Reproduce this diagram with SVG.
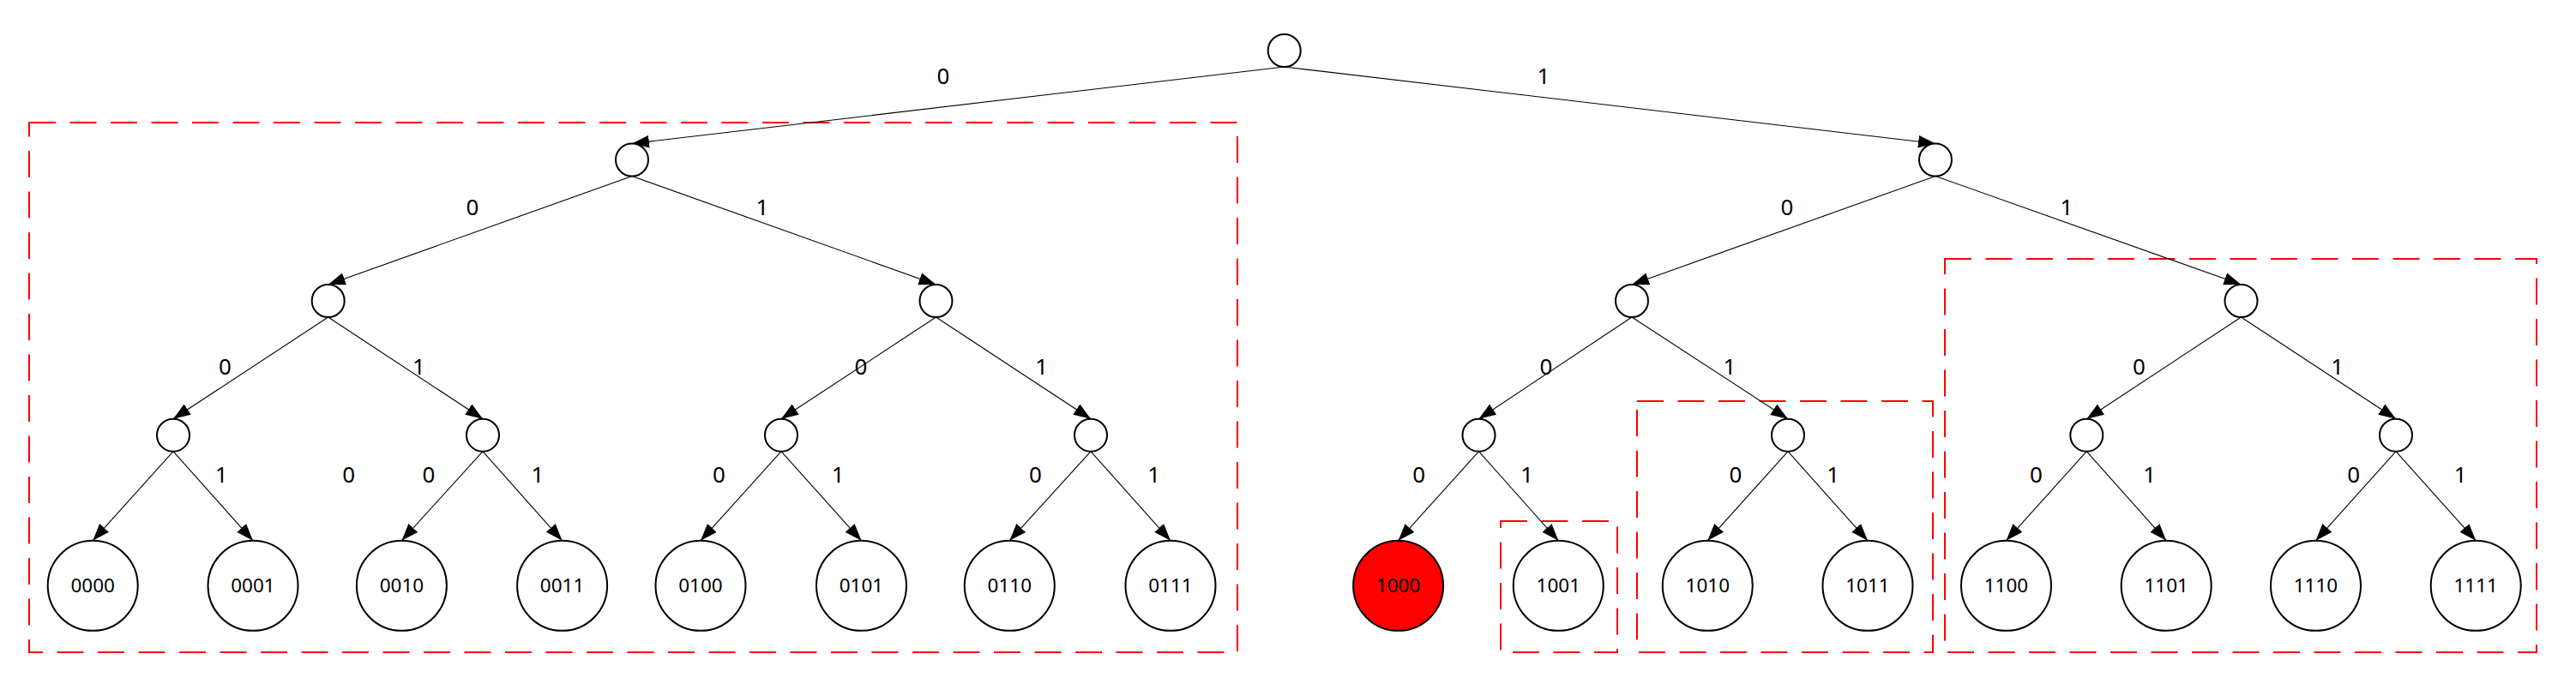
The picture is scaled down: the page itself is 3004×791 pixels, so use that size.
<svg xmlns="http://www.w3.org/2000/svg" width="3004" height="791" viewBox="0 0 3004 791">
<style>
.n{fill:#fff;stroke:#000;stroke-width:2}
.hl{fill:#ff0000;stroke:#000;stroke-width:2}
.e{stroke:#000;stroke-width:1.1;fill:none;marker-end:url(#arr)}
.el{font-family:"Noto Sans","DejaVu Sans",sans-serif;font-size:26px;text-anchor:middle;fill:#000}
.lt{font-family:"Noto Sans","DejaVu Sans",sans-serif;font-size:22.5px;text-anchor:middle;fill:#000}
.box{fill:none;stroke:#ff0000;stroke-width:2;stroke-dasharray:31 16.5}
</style>
<defs>
<marker id="arr" markerUnits="userSpaceOnUse" markerWidth="20" markerHeight="15" refX="20" refY="7.3" orient="auto" viewBox="0 0 20 14.6">
<path d="M0,0 L20,7.3 L0,14.6 z" fill="#000"/>
</marker>
</defs>
<rect width="3004" height="791" fill="#fff"/>
<g id="clusters">
<rect class="box" x="34" y="143" width="1409" height="618"/>
<rect class="box" x="1750" y="608" width="136" height="153"/>
<rect class="box" x="1909" y="468" width="345" height="293"/>
<rect class="box" x="2268" y="302" width="690" height="459"/>
</g>
<g id="connectors">
<line class="e" x1="1497.7" y1="78" x2="737" y2="167.5"/>
<line class="e" x1="1497.7" y1="78" x2="2257" y2="167.5"/>
<line class="e" x1="737" y1="205.5" x2="382.7" y2="332"/>
<line class="e" x1="737" y1="205.5" x2="1091.5" y2="332"/>
<line class="e" x1="2257" y1="205.5" x2="1903" y2="332"/>
<line class="e" x1="2257" y1="205.5" x2="2613.5" y2="332"/>
<line class="e" x1="382.7" y1="370" x2="202" y2="488.7"/>
<line class="e" x1="382.7" y1="370" x2="563" y2="488.7"/>
<line class="e" x1="1091.5" y1="370" x2="911" y2="488.7"/>
<line class="e" x1="1091.5" y1="370" x2="1272" y2="488.7"/>
<line class="e" x1="1903" y1="370" x2="1724.5" y2="488.7"/>
<line class="e" x1="1903" y1="370" x2="2085" y2="488.7"/>
<line class="e" x1="2613.5" y1="370" x2="2433.3" y2="488.7"/>
<line class="e" x1="2613.5" y1="370" x2="2794" y2="488.7"/>
<line class="e" x1="202" y1="526.7" x2="108.2" y2="630.8"/>
<line class="e" x1="202" y1="526.7" x2="295" y2="630.8"/>
<line class="e" x1="563" y1="526.7" x2="468.4" y2="630.8"/>
<line class="e" x1="563" y1="526.7" x2="655.6" y2="630.8"/>
<line class="e" x1="911" y1="526.7" x2="817" y2="630.8"/>
<line class="e" x1="911" y1="526.7" x2="1004.5" y2="630.8"/>
<line class="e" x1="1272" y1="526.7" x2="1177.3" y2="630.8"/>
<line class="e" x1="1272" y1="526.7" x2="1365" y2="630.8"/>
<line class="e" x1="1724.5" y1="526.7" x2="1630.6" y2="630.8"/>
<line class="e" x1="1724.5" y1="526.7" x2="1817.3" y2="630.8"/>
<line class="e" x1="2085" y1="526.7" x2="1991.3" y2="630.8"/>
<line class="e" x1="2085" y1="526.7" x2="2178" y2="630.8"/>
<line class="e" x1="2433.3" y1="526.7" x2="2339.5" y2="630.8"/>
<line class="e" x1="2433.3" y1="526.7" x2="2526.2" y2="630.8"/>
<line class="e" x1="2794" y1="526.7" x2="2700.5" y2="630.8"/>
<line class="e" x1="2794" y1="526.7" x2="2887.2" y2="630.8"/>
<text class="el" x="1100" y="98.3">0</text>
<text class="el" x="1800" y="98.3">1</text>
<text class="el" x="551" y="250.7">0</text>
<text class="el" x="889" y="250.7">1</text>
<text class="el" x="2084" y="250.7">0</text>
<text class="el" x="2410" y="250.7">1</text>
<text class="el" x="262.5" y="436.7">0</text>
<text class="el" x="488.5" y="436.7">1</text>
<text class="el" x="1004" y="436.7">0</text>
<text class="el" x="1214.6" y="436.7">1</text>
<text class="el" x="1803" y="436.7">0</text>
<text class="el" x="2017" y="436.7">1</text>
<text class="el" x="2494.5" y="436.7">0</text>
<text class="el" x="2725.8" y="436.7">1</text>
<text class="el" x="406.6" y="562.7">0</text>
<text class="el" x="258.2" y="562.7">1</text>
<text class="el" x="500" y="562.7">0</text>
<text class="el" x="627" y="562.7">1</text>
<text class="el" x="838.4" y="562.7">0</text>
<text class="el" x="977.2" y="562.7">1</text>
<text class="el" x="1207.5" y="562.7">0</text>
<text class="el" x="1345.8" y="562.7">1</text>
<text class="el" x="1654.6" y="562.7">0</text>
<text class="el" x="1780.6" y="562.7">1</text>
<text class="el" x="2024" y="562.7">0</text>
<text class="el" x="2137.8" y="562.7">1</text>
<text class="el" x="2374.4" y="562.7">0</text>
<text class="el" x="2506.7" y="562.7">1</text>
<text class="el" x="2744.6" y="562.7">0</text>
<text class="el" x="2869.2" y="562.7">1</text>
</g>
<g id="root"><circle class="n" cx="1497.7" cy="59" r="19"/></g>
<g id="n0"><circle class="n" cx="737" cy="186.5" r="19"/></g>
<g id="n1"><circle class="n" cx="2257" cy="186.5" r="19"/></g>
<g id="n00"><circle class="n" cx="382.7" cy="351" r="19"/></g>
<g id="n01"><circle class="n" cx="1091.5" cy="351" r="19"/></g>
<g id="n10"><circle class="n" cx="1903" cy="351" r="19"/></g>
<g id="n11"><circle class="n" cx="2613.5" cy="351" r="19"/></g>
<g id="n000"><circle class="n" cx="202" cy="507.7" r="19"/></g>
<g id="n001"><circle class="n" cx="563" cy="507.7" r="19"/></g>
<g id="n010"><circle class="n" cx="911" cy="507.7" r="19"/></g>
<g id="n011"><circle class="n" cx="1272" cy="507.7" r="19"/></g>
<g id="n100"><circle class="n" cx="1724.5" cy="507.7" r="19"/></g>
<g id="n101"><circle class="n" cx="2085" cy="507.7" r="19"/></g>
<g id="n110"><circle class="n" cx="2433.3" cy="507.7" r="19"/></g>
<g id="n111"><circle class="n" cx="2794" cy="507.7" r="19"/></g>
<g id="n0000"><circle class="n" cx="108.2" cy="683.3" r="52.5"/><text class="lt" x="108.2" y="691.3">0000</text></g>
<g id="n0001"><circle class="n" cx="295" cy="683.3" r="52.5"/><text class="lt" x="295" y="691.3">0001</text></g>
<g id="n0010"><circle class="n" cx="468.4" cy="683.3" r="52.5"/><text class="lt" x="468.4" y="691.3">0010</text></g>
<g id="n0011"><circle class="n" cx="655.6" cy="683.3" r="52.5"/><text class="lt" x="655.6" y="691.3">0011</text></g>
<g id="n0100"><circle class="n" cx="817" cy="683.3" r="52.5"/><text class="lt" x="817" y="691.3">0100</text></g>
<g id="n0101"><circle class="n" cx="1004.5" cy="683.3" r="52.5"/><text class="lt" x="1004.5" y="691.3">0101</text></g>
<g id="n0110"><circle class="n" cx="1177.3" cy="683.3" r="52.5"/><text class="lt" x="1177.3" y="691.3">0110</text></g>
<g id="n0111"><circle class="n" cx="1365" cy="683.3" r="52.5"/><text class="lt" x="1365" y="691.3">0111</text></g>
<g id="n1000"><circle class="hl" cx="1630.6" cy="683.3" r="52.5"/><text class="lt" x="1630.6" y="691.3">1000</text></g>
<g id="n1001"><circle class="n" cx="1817.3" cy="683.3" r="52.5"/><text class="lt" x="1817.3" y="691.3">1001</text></g>
<g id="n1010"><circle class="n" cx="1991.3" cy="683.3" r="52.5"/><text class="lt" x="1991.3" y="691.3">1010</text></g>
<g id="n1011"><circle class="n" cx="2178" cy="683.3" r="52.5"/><text class="lt" x="2178" y="691.3">1011</text></g>
<g id="n1100"><circle class="n" cx="2339.5" cy="683.3" r="52.5"/><text class="lt" x="2339.5" y="691.3">1100</text></g>
<g id="n1101"><circle class="n" cx="2526.2" cy="683.3" r="52.5"/><text class="lt" x="2526.2" y="691.3">1101</text></g>
<g id="n1110"><circle class="n" cx="2700.5" cy="683.3" r="52.5"/><text class="lt" x="2700.5" y="691.3">1110</text></g>
<g id="n1111"><circle class="n" cx="2887.2" cy="683.3" r="52.5"/><text class="lt" x="2887.2" y="691.3">1111</text></g>
</svg>
